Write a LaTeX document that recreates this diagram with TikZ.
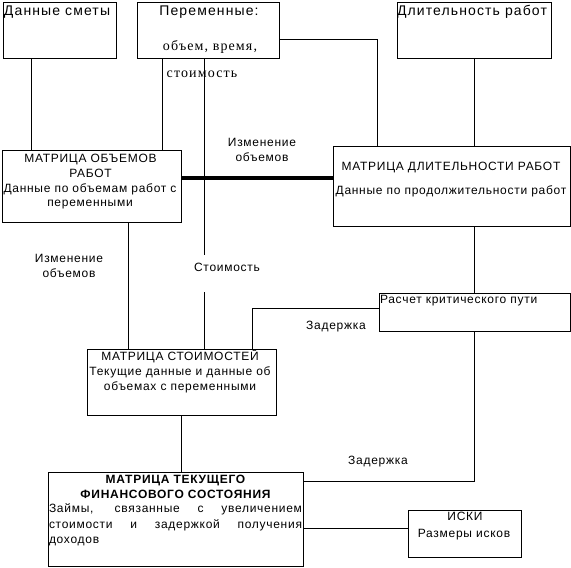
\documentclass[tikz,border=0pt]{standalone}
\usepackage{fontspec}
\setmainfont{Liberation Sans}
\newfontfamily\sa{Liberation Sans}[LetterSpace=6]
\newfontfamily\sh{Liberation Sans}[LetterSpace=8]
\newfontfamily\sv{Liberation Serif}[LetterSpace=8]
\tikzset{
  box/.style={draw, line width=1pt, inner sep=0pt, outer sep=0pt, rectangle},
  conn/.style={line width=1pt},
  thick conn/.style={line width=4pt},
  txt/.style={inner sep=0pt, outer sep=0pt, font=\sa\fontsize{12}{14}\selectfont},
  head/.style={inner sep=0pt, outer sep=0pt, font=\sh\fontsize{14}{16}\selectfont},
  serv/.style={inner sep=0pt, outer sep=0pt, font=\sv\fontsize{14}{16}\selectfont},
  boldt/.style={inner sep=0pt, outer sep=0pt, font=\sa\bfseries\fontsize{12}{14}\selectfont},
}
\begin{document}
\begin{tikzpicture}[x=1pt,y=-1pt]
\useasboundingbox (0,0) rectangle (571,568);
% boxes
\node[box, minimum width=113, minimum height=56] (smeta) at (59.5,30) {};
\node[box, minimum width=142, minimum height=56] (perem) at (208,30) {};
\node[box, minimum width=154, minimum height=56] (dlit) at (474,30) {};
\node[box, minimum width=179, minimum height=72] (mobj) at (91.5,186) {};
\node[box, minimum width=237, minimum height=80] (mdlit) at (451.5,186) {};
\node[box, minimum width=191, minimum height=38] (crit) at (474.5,312) {};
\node[box, minimum width=189, minimum height=66] (mcost) at (181.5,382) {};
\node[box, minimum width=255, minimum height=94] (mfin) at (175.5,519) {};
\node[box, minimum width=113, minimum height=47] (iski) at (464.5,533.5) {};
% helper coordinates
\coordinate (x31) at (31,0);
\coordinate (x162) at (162,0);
\coordinate (x204) at (204,0);
\coordinate (c1) at (377,39);
\coordinate (y178) at (0,178);
\coordinate (x128) at (128,0);
\coordinate (x474) at (474,0);
\coordinate (c2) at (474,481);
\coordinate (c3) at (252,308);
\coordinate (y528) at (0,528);
% connectors
\draw[conn] (smeta.south -| x31) -- (mobj.north -| x31);
\draw[conn] (perem.south -| x162) -- (mobj.north -| x162);
\draw[conn] (perem.south -| x204) -- (mcost.north -| x204);
\draw[conn] (perem.east |- c1) -- (c1) -- (mdlit.north -| c1);
\draw[conn] (dlit.south) -- (dlit.south |- mdlit.north);
\draw[thick conn] (mobj.east |- y178) -- (mdlit.west |- y178);
\draw[conn] (mobj.south -| x128) -- (mcost.north -| x128);
\draw[conn] (mdlit.south -| x474) -- (crit.north -| x474);
\draw[conn] (crit.south -| c2) -- (c2) -- (mfin.east |- c2);
\draw[conn] (crit.west |- c3) -- (c3) -- (mcost.north -| c3);
\draw[conn] (mcost.south) -- (mfin.north -| mcost.south);
\draw[conn] (mfin.east |- y528) -- (iski.west |- y528);
% box texts
\node[head, anchor=base west] (t1) at (4,15) {Данные сметы};
\node[head, anchor=base] (t2) at (209,15) {Переменные:};
\node[serv, anchor=base] (t3) at (210,50) {объем, время,};
\node[serv, anchor=base] (t4) at (202,77) {стоимость};
\node[head, anchor=base west] (t5) at (397,15) {Длительность работ};
\node[txt, anchor=base] (t6) at (90.5,162) {МАТРИЦА ОБЪЕМОВ};
\node[txt, anchor=base] (t7) at (90.5,177) {РАБОТ};
\node[txt, anchor=base] (t8) at (90,192) {Данные по объемам работ с};
\node[txt, anchor=base] (t9) at (90,206) {переменными};
\node[txt, anchor=base] (t10) at (451,170) {МАТРИЦА ДЛИТЕЛЬНОСТИ РАБОТ};
\node[txt, anchor=base] (t11) at (451,194) {Данные по продолжительности работ};
\node[txt, anchor=base west] (t12) at (380,303) {Расчет критического пути};
\node[txt, anchor=base] (t13) at (180,360) {МАТРИЦА СТОИМОСТЕЙ};
\node[txt, anchor=base] (t14) at (180,375) {Текущие данные и данные об};
\node[txt, anchor=base] (t15) at (180,390) {объемах с переменными};
\node[boldt, anchor=base] (t16) at (175.5,483) {МАТРИЦА ТЕКУЩЕГО};
\node[boldt, anchor=base] (t17) at (175.5,498) {ФИНАНСОВОГО СОСТОЯНИЯ};
\node[txt, anchor=base west] (t18) at (49,512) {\makebox[253pt][s]{Займы, связанные с увеличением}};
\node[txt, anchor=base west] (t19) at (49,528) {\makebox[253pt][s]{стоимости и задержкой получения}};
\node[txt, anchor=base west] (t20) at (49,543) {доходов};
\node[txt, anchor=base] (t21) at (465,520) {ИСКИ};
\node[txt, anchor=base] (t22) at (464,537) {Размеры исков};
% connector labels
\node[txt, anchor=base] (l1) at (262,146) {Изменение};
\node[txt, anchor=base] (l2) at (262,161) {объемов};
\node[txt, anchor=base] (l3) at (69,262) {Изменение};
\node[txt, anchor=base] (l4) at (69,277) {объемов};
\node[txt, anchor=base, fill=white, text height=16pt, text depth=21pt, inner xsep=2pt] (l5) at (227,271) {Стоимость};
\node[txt, anchor=base] (l6) at (336,329) {Задержка};
\node[txt, anchor=base] (l7) at (378,464) {Задержка};
\end{tikzpicture}
\end{document}
